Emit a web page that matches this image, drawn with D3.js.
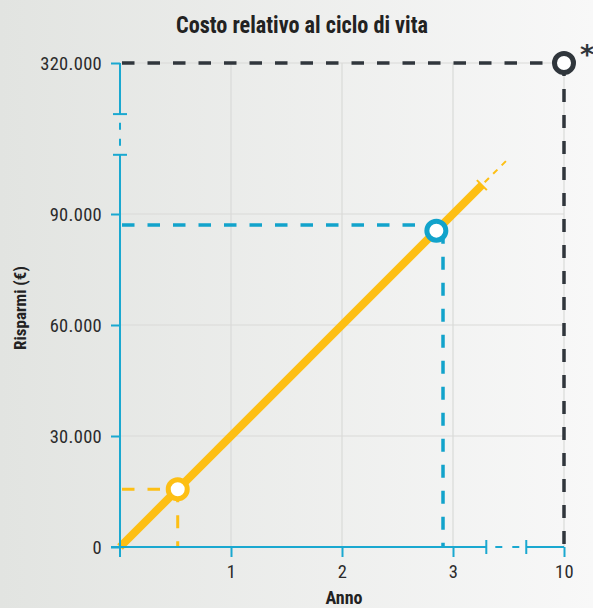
<!DOCTYPE html>
<html>
<head>
<meta charset="utf-8">
<script src="https://cdn.jsdelivr.net/npm/d3@7"></script>
<style>
  html, body { margin: 0; padding: 0; }
  body { width: 593px; height: 608px; overflow: hidden; }
  svg { display: block; }
  .narrow { font-family: "Roboto Condensed", "DejaVu Sans Condensed", "Liberation Sans Narrow", sans-serif; }
</style>
</head>
<body>
<svg id="chart" width="593" height="608"></svg>
<script>
// Savings over the life cycle: cumulative savings (€) by year
const title = "Costo relativo al ciclo di vita";
const xTitle = "Anno";
const yTitle = "Risparmi (€)";

const xTickValues = [1, 2, 3, 10];
const xTickLabels = ["1", "2", "3", "10"];
const yTickValues = [0, 30000, 60000, 90000, 320000];
const yTickLabels = ["0", "30.000", "60.000", "90.000", "320.000"];

// axis breaks (start, end)
const xBreak = [3.3, 3.66];
const yBreak = [106000, 117000];

// savings line: solid part and projected part
const lineYears = [0, 3.26];
const lineValues = [0, 97800];
const projYears = [3.26, 3.48];
const projValues = [97800, 104400];

// highlighted points
const pointYears = [0.52, 2.85, 10];
const pointValues = [15600, 85500, 320000];
// reading guides for each point
const guideYears = [0.52, 2.91, 10];
const guideValues = [15600, 87000, 320000];
const pointColors = ["#fdbf14", "#12a3cb", "#30363c"];

const svg = d3.select("#chart");
const W = 593, H = 608;
const axisColor = "#1aa8d0";
const gridColor = "#d9dad8";

// background
const defs = svg.append("defs");
const grad = defs.append("linearGradient").attr("id", "bg").attr("x1", "0").attr("x2", "1").attr("y1", "0").attr("y2", "0");
grad.append("stop").attr("offset", "0").attr("stop-color", "#e2e4e1");
grad.append("stop").attr("offset", "1").attr("stop-color", "#f8f8f8");
svg.append("rect").attr("width", W).attr("height", H).attr("fill", "url(#bg)");

// layout: one year = one 30.000 step = `unit` px, the tail after each break is compressed
const plotLeft = 120, plotRight = 564, plotBottom = 547, plotTop = 63, unit = 111;
const x = d3.scaleLinear()
  .domain([0, xBreak[1], 10])
  .range([plotLeft, plotLeft + unit * xBreak[1], plotRight]);
const y = d3.scaleLinear()
  .domain([0, yBreak[1], 320000])
  .range([plotBottom, plotBottom - unit * yBreak[1] / 30000, plotTop]);

const g = svg.append("g");

// gridlines
g.append("g").selectAll("line").data(xTickValues).join("line")
  .attr("x1", d => x(d)).attr("x2", d => x(d))
  .attr("y1", y(0)).attr("y2", y(320000))
  .attr("stroke", gridColor).attr("stroke-width", 1.2);
g.append("g").selectAll("line").data(yTickValues.filter(v => v > 0)).join("line")
  .attr("x1", x(0)).attr("x2", x(10))
  .attr("y1", d => y(d)).attr("y2", d => y(d))
  .attr("stroke", gridColor).attr("stroke-width", 1.2);

// reading guides
const guides = g.append("g");
pointYears.forEach((yr, i) => {
  const c = pointColors[i];
  const gx = x(guideYears[i]), gy = y(guideValues[i]);
  const w = i === 0 ? 3 : 3.5;
  guides.append("line")
    .attr("x1", x(0) + 2).attr("x2", x(yr)).attr("y1", gy).attr("y2", gy)
    .attr("stroke", c).attr("stroke-width", w).attr("stroke-dasharray", "12.5,13");
  guides.append("line")
    .attr("x1", gx).attr("x2", gx).attr("y1", y(pointValues[i])).attr("y2", y(0))
    .attr("stroke", c).attr("stroke-width", w).attr("stroke-dasharray", "13,13");
});

// savings line
const line = d3.line().x(d => x(d[0])).y(d => y(d[1]));
g.append("path")
  .datum(lineYears.map((v, i) => [v, lineValues[i]]))
  .attr("d", line).attr("fill", "none")
  .attr("stroke", "#fdbf14").attr("stroke-width", 8);
g.append("path")
  .datum(projYears.map((v, i) => [v, projValues[i]]))
  .attr("d", line).attr("fill", "none")
  .attr("stroke", "#fdbf14").attr("stroke-width", 2).attr("stroke-dasharray", "6,6")
  .attr("stroke-dashoffset", -4);
// end cap of solid line
{
  const ex = x(lineYears[1]), ey = y(lineValues[1]);
  g.append("line")
    .attr("x1", ex - 5).attr("y1", ey - 5).attr("x2", ex + 5).attr("y2", ey + 5)
    .attr("stroke", "#fdbf14").attr("stroke-width", 2);
}

// axes
const ax = g.append("g").attr("stroke", axisColor).attr("fill", "none");
// y axis line with break
ax.append("line").attr("x1", x(0)).attr("x2", x(0)).attr("y1", y(0) + 10).attr("y2", y(yBreak[0])).attr("stroke-width", 2);
ax.append("line").attr("x1", x(0)).attr("x2", x(0)).attr("y1", y(yBreak[0])).attr("y2", y(yBreak[1]))
  .attr("stroke-width", 2).attr("stroke-dasharray", "7,9").attr("stroke-dashoffset", -9);
ax.append("line").attr("x1", x(0)).attr("x2", x(0)).attr("y1", y(yBreak[1])).attr("y2", y(320000)).attr("stroke-width", 2);
yBreak.forEach(v => ax.append("line").attr("x1", x(0) - 7).attr("x2", x(0) + 7).attr("y1", y(v)).attr("y2", y(v)).attr("stroke-width", 2));
// x axis line with break
ax.append("line").attr("x1", x(0) - 9).attr("x2", x(xBreak[0])).attr("y1", y(0)).attr("y2", y(0)).attr("stroke-width", 2);
ax.append("line").attr("x1", x(xBreak[0])).attr("x2", x(xBreak[1])).attr("y1", y(0)).attr("y2", y(0))
  .attr("stroke-width", 2).attr("stroke-dasharray", "7,10").attr("stroke-dashoffset", -9);
ax.append("line").attr("x1", x(xBreak[1])).attr("x2", x(10)).attr("y1", y(0)).attr("y2", y(0)).attr("stroke-width", 2);
xBreak.forEach(v => ax.append("line").attr("x1", x(v)).attr("x2", x(v)).attr("y1", y(0) - 7).attr("y2", y(0) + 7).attr("stroke-width", 2));

// ticks and labels through d3 axes
const yAxis = d3.axisLeft(y).tickValues(yTickValues).tickFormat((d, i) => yTickLabels[i]).tickSize(9).tickPadding(9);
const yg = svg.append("g").attr("transform", `translate(${x(0)},0)`).call(yAxis);
const xAxis = d3.axisBottom(x).tickValues(xTickValues).tickFormat((d, i) => xTickLabels[i]).tickSize(10).tickPadding(8);
const xg = svg.append("g").attr("transform", `translate(0,${y(0)})`).call(xAxis);
[yg, xg].forEach(a => {
  a.select(".domain").remove();
  a.selectAll(".tick line").attr("stroke", axisColor).attr("stroke-width", 2);
  a.selectAll(".tick text")
    .attr("class", "narrow").attr("fill", "#2b2b2b")
    .style("font-size", "18.5px").style("letter-spacing", "0.3px");
});
yg.selectAll(".tick text").attr("dy", "0.36em");
xg.selectAll(".tick text").attr("dy", "0.71em");

// highlighted points
svg.append("g").selectAll("circle").data(pointYears).join("circle")
  .attr("cx", d => x(d)).attr("cy", (d, i) => y(pointValues[i]))
  .attr("r", 9.5).attr("fill", "#ffffff")
  .attr("stroke", (d, i) => pointColors[i]).attr("stroke-width", 5);

svg.append("text").attr("x", x(10) + 16).attr("y", y(320000) + 1)
  .attr("fill", "#30363c").style("font-family", "DejaVu Sans, sans-serif").style("font-size", "27px")
  .style("font-weight", "bold").text("*");

// condensed text: squeeze horizontally to the given width around its anchor
function squeeze(sel, width) {
  const node = sel.node();
  const w = node.getComputedTextLength();
  const s = Math.min(1, width / w);
  const tx = +sel.attr("x"), ty = +sel.attr("y");
  sel.attr("x", 0).attr("y", 0).attr("transform", `translate(${tx},${ty}) scale(${s},1)`);
}

// titles
const titleText = svg.append("text").attr("class", "narrow").attr("x", 302).attr("y", 33)
  .attr("text-anchor", "middle").attr("fill", "#222")
  .style("font-size", "23px").style("font-weight", "bold").text(title);
squeeze(titleText, 252);
svg.append("text").attr("class", "narrow").attr("x", 344).attr("y", 604)
  .attr("text-anchor", "middle").attr("fill", "#222")
  .style("font-size", "18px").style("font-weight", "bold").text(xTitle);
svg.append("text").attr("class", "narrow")
  .attr("transform", "translate(26,308) rotate(-90)")
  .attr("text-anchor", "middle").attr("fill", "#222")
  .style("font-size", "17px").style("font-weight", "bold").text(yTitle);
</script>
</body>
</html>
